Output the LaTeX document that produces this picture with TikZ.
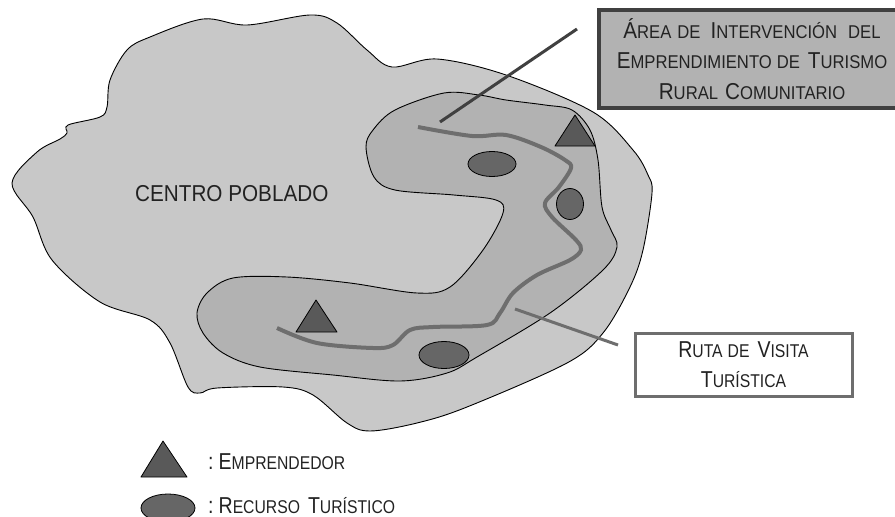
\documentclass[tikz,border=0pt]{standalone}
\usetikzlibrary{shapes.geometric}
\usepackage{fontspec}
\setmainfont{Liberation Sans}
\newfontfamily\nar[FakeStretch=0.9]{Liberation Sans}
\newfontfamily\nnar[FakeStretch=0.85]{Liberation Sans}
\newcommand{\Lg}[1]{{\fontsize{23}{30.5}\selectfont #1}}
\newcommand{\Sm}[1]{{\fontsize{18.5}{30.5}\selectfont #1}}
\newcommand{\Gap}[1]{\hspace{#1pt}}
\definecolor{outerc}{HTML}{C8C8C8}
\definecolor{innerc}{HTML}{B2B2B2}
\definecolor{darkc}{HTML}{595959}
\definecolor{ellc}{HTML}{666666}
\definecolor{linec}{HTML}{404040}
\definecolor{routec}{HTML}{6E6E6E}
\definecolor{txtc}{HTML}{222222}
\tikzset{
  region/.style={draw=black,line width=0.9pt},
  tri/.style={draw=black,line width=0.8pt,fill=darkc,line join=round},
  res/.style={draw=black,line width=0.8pt,fill=ellc},
  labeltxt/.style={text=txtc,font=\nar\fontsize{18.5}{30.5}\selectfont,inner sep=0pt},
  narrowtxt/.style={text=txtc,font=\nnar\fontsize{18.5}{30.5}\selectfont,inner sep=0pt},
  calloutbox/.style={align=center,anchor=center}
}
\begin{document}
\begin{tikzpicture}[x=1pt,y=-1pt]
\useasboundingbox (0,0) rectangle (895,517);
% centro poblado
\draw[region,fill=outerc] plot[smooth cycle,tension=0.55] coordinates {
 (12,183)(37,152)(60,139)(67,133)(68,125)(100,117)(107,107)(110,80)(127,50)(150,37)(203,19)(247,25)(310,15)(337,23)(367,50)(392,67)(437,59)(506,75)(593,112)(633,150)(648,175)(652,193)(643,250)(630,287)(603,333)(567,363)(467,407)(417,423)(370,431)(347,423)(313,395)(283,387)(217,388)(200,393)(188,387)(170,343)(150,320)(100,302)(52,260)(33,217)};
% area
\draw[region,fill=innerc] plot[smooth cycle,tension=0.55] coordinates {
 (366,147)(373,130)(395,110)(444,93)(479,95)(506,100)(545,105)(572,110)(590,130)(598,160)(602,207)(611,230)(617,247)(603,270)(550,313)(477,357)(447,373)(400,381)(333,375)(260,367)(223,353)(203,333)(197,313)(207,293)(233,278)(287,277)(350,283)(417,293)(450,287)(483,250)(503,213)(496,200)(454,195)(395,190)(374,177)};
% ruta
\draw[routec,line width=4pt] plot[smooth,tension=0.55] coordinates {
 (418,127)(472,136)(506,135)(541,147)(565,160)(571,168)(559,187)(545,203)(552,217)(576,240)(581,250)(570,260)(537,275)(513,293)(500,313)(487,325)(433,327)(410,330)(393,345)(373,348)(317,343)(277,328)};
% recursos
\node[res,ellipse,minimum width=48pt,minimum height=25pt,inner sep=0pt] (r1) at (492,164) {};
\node[res,ellipse,minimum width=27pt,minimum height=31pt,inner sep=0pt] (r2) at (570,204) {};
\node[res,ellipse,minimum width=50pt,minimum height=27pt,inner sep=0pt] (r3) at (444,355) {};
\node[res,ellipse,minimum width=54pt,minimum height=28pt,inner sep=0pt] (r4) at (168,508) {};
% emprendedores
\draw[tri] (575,115) -- (595,146) -- (555,146) -- cycle;
\draw[tri] (316,300) -- (337,332) -- (296,332) -- cycle;
\draw[tri] (163,441) -- (187,477) -- (141,477) -- cycle;
% leaders
\coordinate (la) at (440,122);
\coordinate (lb) at (577,29);
\coordinate (lc) at (515,309);
\coordinate (ld) at (618,345);
\draw[linec,line width=3pt] (la) -- (lb);
\draw[routec,line width=3pt] (lc) -- (ld);
% boxes
\node[labeltxt,calloutbox,draw=linec,line width=3.4pt,fill=innerc,minimum width=306pt,minimum height=98pt] (b1) at (752,59)
 {\Lg{Á}\Sm{REA}\Gap{6}\Sm{DE}\Gap{10}\Lg{I}\Sm{NTERVENCIÓN}\Gap{11}\Sm{DEL}\\ \Lg{E}\Sm{MPRENDIMIENTO}\Gap{5}\Sm{DE}\Gap{8}\Lg{T}\Sm{URISMO}\\ \Lg{R}\Sm{URAL}\Gap{7}\Lg{C}\Sm{OMUNITARIO}};
\node[narrowtxt,calloutbox,draw=routec,line width=3pt,fill=white,minimum width=217pt,minimum height=63pt] (b2) at (743.5,364.5)
 {\Lg{R}\Sm{UTA}\Gap{5}\Sm{DE}\Gap{8}\Lg{V}\Sm{ISITA}\\ \Lg{T}\Sm{URÍSTICA}};
% texts
\node[labeltxt,anchor=base west] (cp) at (135,201) {\fontsize{23}{30}\selectfont CENTRO POBLADO};
\node[narrowtxt,anchor=base west] (l1) at (208,469) {\Lg{:}\Gap{5}\Lg{E}\Sm{MPRENDEDOR}};
\node[narrowtxt,anchor=base west] (l2) at (208,513) {\Lg{:}\Gap{5}\Lg{R}\Sm{ECURSO}\Gap{8}\Lg{T}\Sm{URÍSTICO}};
\end{tikzpicture}
\end{document}
